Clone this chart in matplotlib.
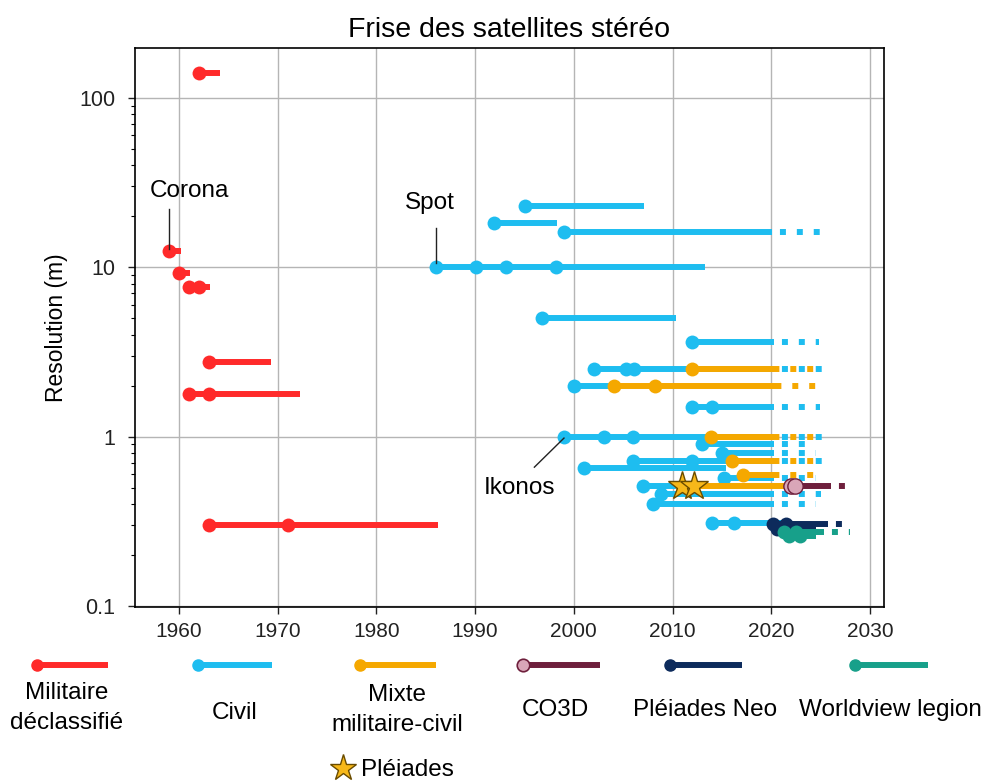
import matplotlib
matplotlib.use("Agg")
import matplotlib.pyplot as plt

plt.rcParams['font.family'] = ['Liberation Sans', 'DejaVu Sans']

# Militaire declassifie
mil_res = [140, 12.4, 9.2, 7.65, 2.75, 1.79, 0.30]
mil_launch = [[1962.0], [1959.0], [1960.0], [1961.0, 1962.0], [1963.0], [1961.0, 1963.0], [1963.0, 1971.0]]
mil_end = [1964.2, 1960.2, 1961.1, 1963.1, 1969.3, 1972.3, 1986.2]
mil_planned = [None, None, None, None, None, None, None]

# Civil
civ_res = [23.1, 18.3, 16.1, 10.0, 5.0, 3.6, 2.49, 2.0, 1.5, 1.0, 0.9, 0.8, 0.715, 0.656, 0.57, 0.51, 0.46, 0.40, 0.31]
civ_launch = [[1995.0], [1991.9], [1999.0], [1986.0, 1990.1, 1993.1, 1998.2], [1996.8], [2012.0],
              [2002.0, 2005.3, 2006.1], [2000.0], [2012.0, 2014.0], [1999.0, 2003.1, 2006.0],
              [2013.0], [2015.0], [2006.0, 2012.0], [2001.0], [2015.2], [2007.0], [2008.8],
              [2008.0], [2014.0, 2016.2]]
civ_end = [2007.1, 1998.3, 2020.1, 2013.3, 2010.3, 2020.3, 2020.3, 2004.1, 2020.3, 2020.3,
           2020.3, 2020.3, 2020.3, 2015.4, 2020.3, 2011.0, 2020.3, 2020.3, 2022.0]
civ_planned = [None, None, 2025.0, None, None, 2024.8, 2025.2, None, 2024.9, 2025.2,
               2024.3, 2024.5, 2025.2, None, 2024.5, None, 2025.0, 2024.5, None]

# Mixte militaire-civil
mix_res = [2.49, 2.0, 1.0, 0.715, 0.597, 0.508]
mix_launch = [[2012.0], [2004.1, 2008.2], [2013.9], [2016.0], [2017.1], [2011.0]]
mix_end = [2020.3, 2020.5, 2020.3, 2020.3, 2020.3, 2021.5]
mix_planned = [2025.2, 2025.2, 2025.2, 2025.2, 2024.5, None]

# Pleiades (stars)
pleiades_years = [2011.0, 2012.2]
pleiades_res = [0.508, 0.508]

# CO3D
co3d_res = [0.51]
co3d_launch = [[2022.0, 2022.4]]
co3d_end = [2026.0]
co3d_planned = [2027.6]

# Pleiades Neo
neo_res = [0.305, 0.285]
neo_launch = [[2020.2, 2021.5], [2020.6, 2022.0]]
neo_end = [2025.7, 2024.5]
neo_planned = [2027.5, None]

# Worldview legion
wvl_res = [0.275, 0.258]
wvl_launch = [[2021.3, 2022.5], [2021.8, 2022.9]]
wvl_end = [2025.3, 2024.5]
wvl_planned = [2028.0, None]

RED = '#ff2a2a'
BLUE = '#1ebdf0'
ORANGE = '#f5a800'
CO3D_C = '#6e1f3c'
NEO_C = '#0d2b5c'
WVL_C = '#17a08a'

LW = 4.3
MS = 10
DOTS = (1, 1.83)


def draw_rows(ax, res, launch, end, planned, color, z, off=1.5, mfc=None, mec=None, ms=MS):
    for r, dates, e, p in zip(res, launch, end, planned):
        ax.plot([dates[0], e], [r, r], color=color, lw=LW, solid_capstyle='butt', zorder=z)
        if p is not None:
            ax.plot([e, p], [r, r], color=color, lw=LW, linestyle=(off, DOTS),
                    dash_capstyle='butt', zorder=z)
        ax.plot(dates, [r] * len(dates), 'o', ms=ms, zorder=z + 0.5,
                mfc=mfc or color, mec=mec or color, mew=1 if mec else 0)


fig = plt.figure(figsize=(9.87, 7.83), dpi=100)
ax = fig.add_axes([135 / 987, 1 - 607 / 783, 749 / 987, 559 / 783])

draw_rows(ax, mil_res, mil_launch, mil_end, mil_planned, RED, 3)
draw_rows(ax, civ_res, civ_launch, civ_end, civ_planned, BLUE, 3)
draw_rows(ax, mix_res, mix_launch, mix_end, mix_planned, ORANGE, 4, off=0.1)
ax.plot(pleiades_years, pleiades_res, '*', ms=21, mfc='#f7b81a', mec='#6a4c00', mew=1, zorder=6)
draw_rows(ax, neo_res, neo_launch, neo_end, neo_planned, NEO_C, 5)
draw_rows(ax, wvl_res, wvl_launch, wvl_end, wvl_planned, WVL_C, 5.2)
draw_rows(ax, co3d_res, co3d_launch, co3d_end, co3d_planned, CO3D_C, 6,
          mfc='#d9a6b8', mec=CO3D_C, ms=11)

# annotations
ax.text(1961.1, 28.1, 'Corona', ha='center', va='center', fontsize=17.5)
ax.plot([1959.0, 1959.0], [12.9, 22.0], color='#222222', lw=1, zorder=7)
ax.text(1985.4, 24, 'Spot', ha='center', va='center', fontsize=17.5)
ax.plot([1986.0, 1986.0], [10.6, 17.0], color='#222222', lw=1, zorder=7)
ax.text(1994.5, 0.498, 'Ikonos', ha='center', va='center', fontsize=17.5)
ax.plot([1996.0, 1999.0], [0.66, 0.98], color='#222222', lw=1, zorder=7)

ax.set_yscale('log')
ax.set_xlim(1955.54, 2031.42)
ax.set_ylim(0.0986, 197)
ax.set_xticks([1960, 1970, 1980, 1990, 2000, 2010, 2020, 2030])
ax.set_yticks([0.1, 1, 10, 100])
ax.set_yticklabels(['0.1', '1', '10', '100'])
ax.tick_params(axis='both', which='major', labelsize=15.5, length=5, width=1, colors='#222222')
ax.tick_params(axis='x', labelsize=15, pad=6)
ax.tick_params(axis='y', which='major', pad=9)
ax.tick_params(axis='y', which='minor', length=3, width=0.8)
ax.grid(True, which='major', color='#b5b5b5', lw=1, zorder=0)
ax.set_axisbelow(True)
for s in ax.spines.values():
    s.set_linewidth(1.2)
ax.set_ylabel('Resolution (m)', fontsize=16.5, labelpad=8)
ax.set_title('Frise des satellites stéréo', fontsize=20.5, pad=8)

# legend drawn under the axes
lg = fig.add_axes([0, 0, 1, 1])
lg.set_xlim(0, 987)
lg.set_ylim(783, 0)
lg.axis('off')
lg.patch.set_visible(False)

leg_labels = ['Militaire\ndéclassifié', 'Civil', 'Mixte\nmilitaire-civil', 'CO3D', 'Pléiades Neo', 'Worldview legion']
leg_colors = [RED, BLUE, ORANGE, CO3D_C, NEO_C, WVL_C]
leg_x0 = [37, 198, 360, 523, 670, 855]
leg_x1 = [108, 272, 436, 600, 742, 928]
leg_tx = [67, 235, 397, 555, 705, 890]
leg_ty = [708, 713, 710, 710, 710, 710]
for i, lab in enumerate(leg_labels):
    c = leg_colors[i]
    lg.plot([leg_x0[i], leg_x1[i]], [665, 665], color=c, lw=LW, solid_capstyle='butt')
    if lab == 'CO3D':
        lg.plot([leg_x0[i]], [665], 'o', ms=9, mfc='#d9a6b8', mec=c, mew=1.2)
    else:
        lg.plot([leg_x0[i]], [665], 'o', ms=8, color=c)
    lg.text(leg_tx[i], leg_ty[i], lab, ha='center', va='center', fontsize=17.5, linespacing=1.45)
lg.plot([343], [768], '*', ms=20, mfc='#f7b81a', mec='#6a4c00', mew=1)
lg.text(361, 770, 'Pléiades', ha='left', va='center', fontsize=17.5)

fig.savefig('out.png', dpi=100)
